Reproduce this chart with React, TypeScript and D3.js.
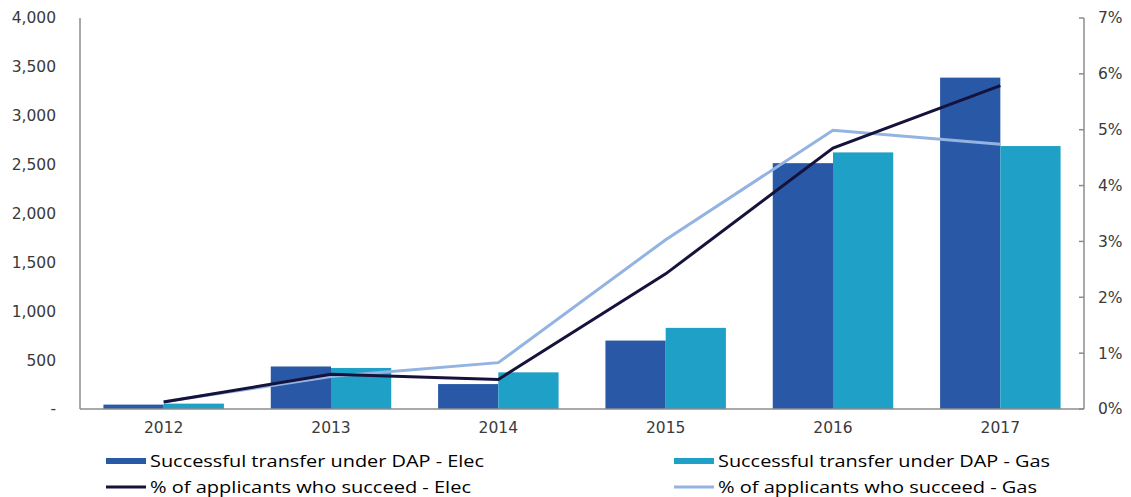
import React from "react";
import * as d3 from "d3";

const years = ["2012", "2013", "2014", "2015", "2016", "2017"];
const elecTransfers = [45, 435, 255, 700, 2515, 3390];
const gasTransfers = [55, 420, 375, 830, 2625, 2690];
const elecPct = [0.125, 0.62, 0.53, 2.42, 4.67, 5.79];
const gasPct = [0.13, 0.58, 0.83, 3.03, 4.99, 4.74];
const leftTicks = [0, 500, 1000, 1500, 2000, 2500, 3000, 3500, 4000];
const rightTicks = [0, 1, 2, 3, 4, 5, 6, 7];
const legendItems = [
  { label: "Successful transfer under DAP - Elec", kind: "bar", color: "#2959A6", len: 334 },
  { label: "Successful transfer under DAP - Gas", kind: "bar", color: "#1FA0C6", len: 332 },
  { label: "% of applicants who succeed - Elec", kind: "line", color: "#15123C", len: 321 },
  { label: "% of applicants who succeed - Gas", kind: "line", color: "#93B3E2", len: 319 },
];

const W = 1131;
const H = 497;
const left = 80;
const right = 1084;
const top = 18;
const bottom = 409;

export default function App() {
  const x = d3.scaleBand().domain(years).range([left, right]).paddingInner(0.28).paddingOuter(0.14);
  const yL = d3.scaleLinear().domain([0, 4000]).range([bottom, top]);
  const yR = d3.scaleLinear().domain([0, 7]).range([bottom, top]);
  const bw = x.bandwidth() / 2;
  const cx = (y: string) => (x(y) as number) + x.bandwidth() / 2;
  const lineE = d3.line<number>().x((_, i) => cx(years[i])).y((d) => yR(d));
  const axisFont = "'DejaVu Sans', Verdana, sans-serif";
  const legFont = "'Open Sans', Lato, sans-serif";
  const tc = "#3a3a3a";

  return (
    <svg width={W} height={H} style={{ position: "absolute", left: 0, top: 0, background: "#fff" }}>
      {years.map((yr, i) => (
        <g key={yr}>
          <rect x={x(yr)} y={yL(elecTransfers[i])} width={bw} height={bottom - yL(elecTransfers[i])} fill={legendItems[0].color} />
          <rect x={(x(yr) as number) + bw} y={yL(gasTransfers[i])} width={bw} height={bottom - yL(gasTransfers[i])} fill={legendItems[1].color} />
        </g>
      ))}
      <line x1={left} x2={left} y1={top} y2={bottom} stroke="#8c8c8c" strokeWidth={1.5} />
      <line x1={left} x2={right} y1={bottom} y2={bottom} stroke="#8c8c8c" strokeWidth={1.5} />
      <line x1={right} x2={right} y1={top} y2={bottom} stroke="#8c8c8c" strokeWidth={1.5} />
      {rightTicks.map((t) => (
        <line key={t} x1={right - 5} x2={right} y1={yR(t)} y2={yR(t)} stroke="#8c8c8c" strokeWidth={1.5} />
      ))}
      <path d={lineE(gasPct) || ""} fill="none" stroke={legendItems[3].color} strokeWidth={3} />
      <path d={lineE(elecPct) || ""} fill="none" stroke={legendItems[2].color} strokeWidth={3} />
      {leftTicks.map((t) => (
        <text key={t} x={56} y={yL(t)} dy="0.35em" textAnchor="end" fontFamily={axisFont} fontSize={15.5} fill={tc}>
          {t === 0 ? "-" : d3.format(",")(t)}
        </text>
      ))}
      {rightTicks.map((t) => (
        <text key={t} x={1098} y={yR(t)} dy="0.35em" textAnchor="start" fontFamily={axisFont} fontSize={15.5} fill={tc}>
          {t + "%"}
        </text>
      ))}
      {years.map((yr) => (
        <text key={yr} x={cx(yr)} y={428} dy="0.35em" textAnchor="middle" fontFamily={axisFont} fontSize={15.5} fill={tc}>
          {yr}
        </text>
      ))}
      {legendItems.map((it, i) => {
        const lx = i % 2 === 0 ? 106 : 674;
        const ly = i < 2 ? 461 : 487;
        return (
          <g key={it.label}>
            {it.kind === "bar" ? (
              <rect x={lx} y={ly - 3} width={40} height={6} fill={it.color} />
            ) : (
              <line x1={lx} x2={lx + 40} y1={ly} y2={ly} stroke={it.color} strokeWidth={3} />
            )}
            <text x={lx + 44} y={ly} dy="0.35em" fontFamily={legFont} fontSize={16} fill="#000" textLength={it.len} lengthAdjust="spacingAndGlyphs">
              {it.label}
            </text>
          </g>
        );
      })}
    </svg>
  );
}
